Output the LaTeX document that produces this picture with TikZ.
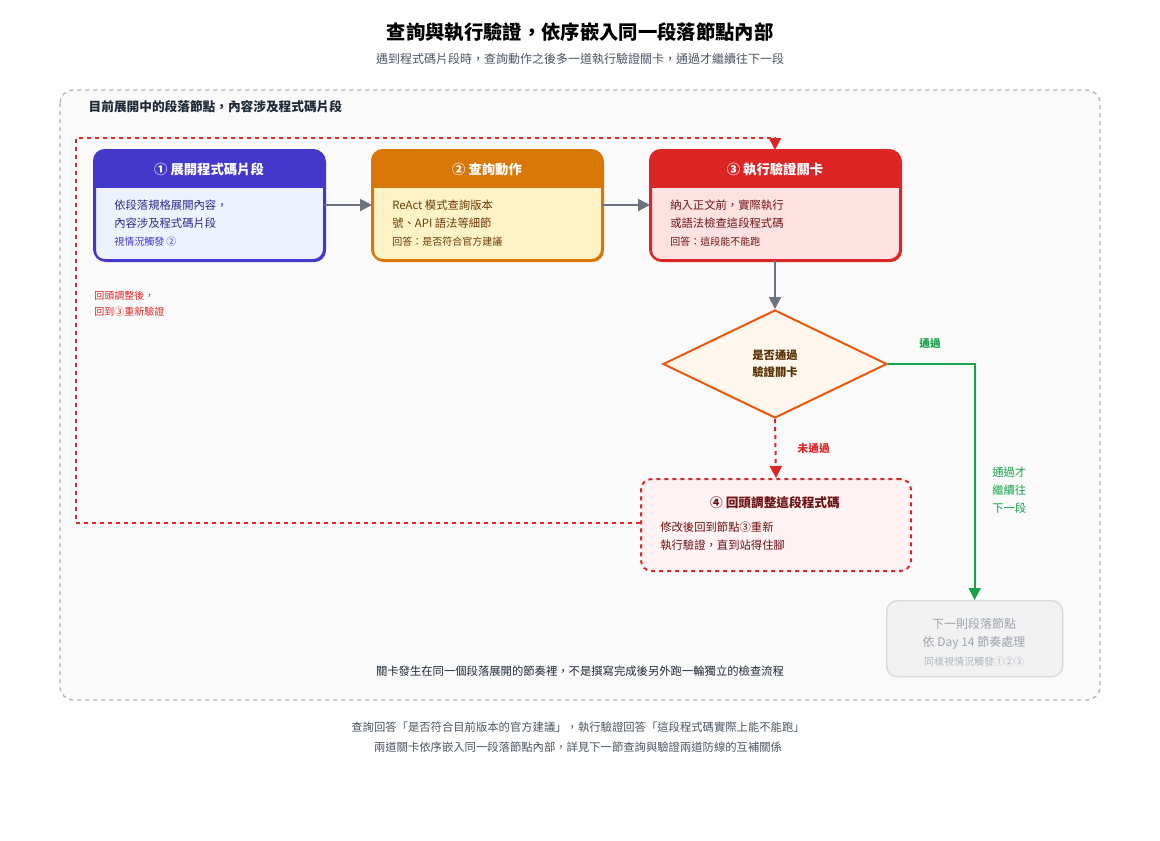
\documentclass[tikz,border=0pt]{standalone}
\usepackage{fontspec}
\setmainfont{Noto Sans CJK TC}
\usetikzlibrary{arrows.meta,positioning,shapes.geometric}
\definecolor{gline}{HTML}{6B7280}
\definecolor{hblue}{HTML}{4338CA}
\definecolor{bblue}{HTML}{EEF2FF}
\definecolor{horange}{HTML}{D97706}
\definecolor{borange}{HTML}{FEF3C7}
\definecolor{hred}{HTML}{DC2626}
\definecolor{bred}{HTML}{FEE2E2}
\definecolor{pred}{HTML}{FEF2F2}
\definecolor{dorange}{HTML}{EA580C}
\definecolor{forange}{HTML}{FFF7ED}
\definecolor{pass}{HTML}{16A34A}
\definecolor{txt}{HTML}{1F2937}
\definecolor{sub}{HTML}{4B5563}
\definecolor{mute}{HTML}{9CA3AF}
\tikzset{
    stagebox/.style={draw,line width=1.5pt,rounded corners=8pt,anchor=north west,inner sep=0pt},
    head/.style={text=white,font=\bfseries\fontsize{10}{12}\selectfont},
    line/.style={anchor=west,font=\fontsize{8.5}{10}\selectfont,inner sep=0pt},
    small/.style={anchor=west,font=\fontsize{7.5}{9}\selectfont,inner sep=0pt},
    flow/.style={-{Triangle[length=9pt,width=9pt]},line width=1.5pt,gline},
}
\begin{document}
\begin{tikzpicture}[x=0.75pt,y=-0.75pt]
\useasboundingbox[fill=white] (0,0) rectangle (1160,840);

\node (title) at (580,32) {\bfseries\fontsize{14.5}{16}\selectfont 查詢與執行驗證，依序嵌入同一段落節點內部};
\node[text=sub] (subtitle) at (580,59) {\fontsize{9}{11}\selectfont 遇到程式碼片段時，查詢動作之後多一道執行驗證關卡，通過才繼續往下一段};

% container
\draw[gray!60,dashed,line width=1pt,rounded corners=10pt,fill=gray!4] (60,90) rectangle (1100,700);
\node[anchor=west,text=txt,font=\bfseries\fontsize{9.5}{11}\selectfont] (ctitle) at (84,107) {目前展開中的段落節點，內容涉及程式碼片段};

% step 1
\node[stagebox,draw=hblue,fill=bblue,minimum width=230*0.75pt,minimum height=110*0.75pt] (s1) at (94,150) {};
\begin{scope}\clip[rounded corners=8pt] (94,150) rectangle (324,260); \fill[hblue] (94,150) rectangle (324,188);\end{scope}
\draw[hblue,line width=1.5pt,rounded corners=8pt] (94,150) rectangle (324,260);
\node[head] (s1h) at (209,169) {① 展開程式碼片段};
\node[line,text=hblue!70!black] (s1a) at (114,205) {依段落規格展開內容，};
\node[line,text=hblue!70!black] (s1b) at (114,223) {內容涉及程式碼片段};
\node[small,text=hblue] (s1c) at (114,242) {視情況觸發 ②};

% step 2
\node[stagebox,draw=horange,fill=borange,minimum width=230*0.75pt,minimum height=110*0.75pt] (s2) at (372,150) {};
\begin{scope}\clip[rounded corners=8pt] (372,150) rectangle (602,260); \fill[horange] (372,150) rectangle (602,188);\end{scope}
\draw[horange,line width=1.5pt,rounded corners=8pt] (372,150) rectangle (602,260);
\node[head] (s2h) at (487,169) {② 查詢動作};
\node[line,text=horange!50!black] (s2a) at (392,205) {ReAct 模式查詢版本};
\node[line,text=horange!50!black] (s2b) at (392,223) {號、API 語法等細節};
\node[small,text=horange!50!black] (s2c) at (392,242) {回答：是否符合官方建議};

% step 3
\node[stagebox,draw=hred,fill=bred,minimum width=250*0.75pt,minimum height=110*0.75pt] (s3) at (650,150) {};
\begin{scope}\clip[rounded corners=8pt] (650,150) rectangle (900,260); \fill[hred] (650,150) rectangle (900,188);\end{scope}
\draw[hred,line width=1.5pt,rounded corners=8pt] (650,150) rectangle (900,260);
\node[head] (s3h) at (775,169) {③ 執行驗證關卡};
\node[line,text=hred!50!black] (s3a) at (670,205) {納入正文前，實際執行};
\node[line,text=hred!50!black] (s3b) at (670,223) {或語法檢查這段程式碼};
\node[small,text=hred!50!black] (s3c) at (670,242) {回答：這段能不能跑};

\coordinate (s1r) at (324,205); \coordinate (s2l) at (372,205);
\coordinate (s2r) at (602,205); \coordinate (s3l) at (650,205);
\draw[flow] (s1r) -- (s2l);
\draw[flow] (s2r) -- (s3l);

% decision
\node[diamond,draw=dorange,fill=forange,line width=1.5pt,minimum width=224*0.75pt,minimum height=108*0.75pt,inner sep=0pt,aspect=2.07] (chk) at (775,364) {};
\node[text=horange!40!black,align=center,font=\bfseries\fontsize{8.5}{13}\selectfont] (chkt) at (775,364) {是否通過\\驗證關卡};
\coordinate (s3b0) at (775,260);
\draw[flow] (s3b0) -- (chk.north);

% fix step
\node[stagebox,draw=hred,fill=pred,dashed,minimum width=270*0.75pt,minimum height=92*0.75pt] (s4) at (640,478) {};
\node[text=hred!50!black,font=\bfseries\fontsize{9.5}{11}\selectfont] (s4h) at (775,503) {④ 回頭調整這段程式碼};
\node[line,text=hred!50!black] (s4a) at (660,527) {修改後回到節點③重新};
\node[line,text=hred!50!black] (s4b) at (660,545) {執行驗證，直到站得住腳};
\draw[flow,hred,dashed] (chk.south) -- (s4.north);
\node[anchor=west,text=hred,font=\bfseries\fontsize{8}{10}\selectfont] (failt) at (793,448) {未通過};

% loop back
\coordinate (s4l) at (640,523);
\coordinate (s3t) at (775,150);
\draw[flow,hred,dashed] (s4l) -| (76,138) -| (s3t);
\node[small,text=hred] (loopa) at (94,296) {回頭調整後，};
\node[small,text=hred] (loopb) at (94,312) {回到③重新驗證};

% next node
\node[stagebox,draw=gray!30,fill=gray!10,line width=1pt,minimum width=176*0.75pt,minimum height=76*0.75pt] (s5) at (886,600) {};
\node[text=mute,align=center,font=\fontsize{9}{13.5}\selectfont] (s5a) at (974,634) {下一則段落節點\\依 Day 14 節奏處理};
\node[text=mute!80,font=\fontsize{7.5}{9}\selectfont] (s5b) at (974,662) {同樣視情況觸發①②③};
\draw[flow,pass] (chk.east) -| (s5.north);
\node[text=pass,font=\bfseries\fontsize{8}{10}\selectfont] (passt) at (930,343) {通過};
\node[anchor=north west,text=pass,align=left,font=\fontsize{8.5}{13.5}\selectfont,inner sep=0pt] (passn) at (992,467) {通過才\\繼續往\\下一段};

\node[text=txt,font=\fontsize{8.5}{10}\selectfont] (cnote) at (580,671) {關卡發生在同一個段落展開的節奏裡，不是撰寫完成後另外跑一輪獨立的檢查流程};

\node[text=sub,align=center,font=\fontsize{8.5}{14.5}\selectfont] (foot) at (578,737) {查詢回答「是否符合目前版本的官方建議」，執行驗證回答「這段程式碼實際上能不能跑」\\兩道關卡依序嵌入同一段落節點內部，詳見下一節查詢與驗證兩道防線的互補關係};
\end{tikzpicture}
\end{document}
